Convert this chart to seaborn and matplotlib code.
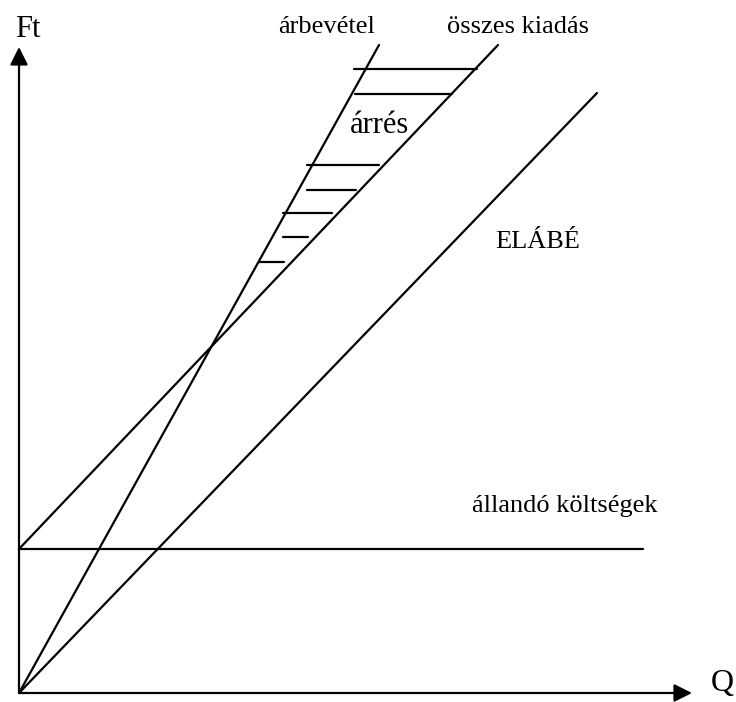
import matplotlib
matplotlib.use("Agg")
import matplotlib.pyplot as plt
import seaborn as sns
import pandas as pd

# ---- data (Q units on x, Ft units on y) ----
line_names = ["árbevétel", "összes kiadás", "ELÁBÉ", "állandó költségek"]
line_q_start = [0.0, 0.0, 0.0, 0.0]
line_ft_start = [0.0, 14.4, 0.0, 14.4]
line_q_end = [36.0, 47.9, 57.8, 62.4]
line_ft_end = [64.8, 64.8, 60.0, 14.4]

# margin hatching between revenue and total cost
hatch_ft = [62.4, 59.9, 52.8, 50.3, 48.0, 45.6, 43.1]
hatch_q_start = [33.5, 33.6, 28.8, 28.8, 26.4, 26.4, 24.0]
hatch_q_end = [45.8, 43.3, 36.0, 33.7, 31.3, 28.9, 26.5]

axis_q_max = 67.3
axis_ft_max = 64.6

labels = ["árbevétel", "összes kiadás", "árrés", "ELÁBÉ", "állandó költségek", "Ft", "Q"]
label_q = [25.9, 42.8, 33.1, 47.6, 45.3, -0.4, 69.2]
label_ft = [66.0, 66.0, 56.0, 44.5, 18.1, 65.6, 0.2]
label_size = [19, 19, 22, 19, 19, 22, 23]

# ---- build long table ----
rows = []
for i, n in enumerate(line_names):
    rows.append({"id": n, "Q": line_q_start[i], "Ft": line_ft_start[i]})
    rows.append({"id": n, "Q": line_q_end[i], "Ft": line_ft_end[i]})
for i, y in enumerate(hatch_ft):
    rows.append({"id": f"h{i}", "Q": hatch_q_start[i], "Ft": y})
    rows.append({"id": f"h{i}", "Q": hatch_q_end[i], "Ft": y})
df = pd.DataFrame(rows)

sns.set_theme(style="white")
plt.rcParams["font.family"] = ["Liberation Serif", "DejaVu Serif"]

fig = plt.figure(figsize=(7.36, 7.02), dpi=100)
ax = fig.add_axes([0, 0, 1, 1])
sns.lineplot(data=df, x="Q", y="Ft", units="id", estimator=None, sort=False,
             color="black", linewidth=1.6, ax=ax)

# axes with arrow heads
arrow = dict(arrowstyle="-|>,head_length=1.0,head_width=0.5", mutation_scale=10.8,
             lw=1.6, color="black", shrinkA=0, shrinkB=0)
ax.annotate("", xy=(0, axis_ft_max), xytext=(0, 0), arrowprops=arrow)
ax.annotate("", xy=(axis_q_max, 0), xytext=(0, 0), arrowprops=arrow)

for t, x, y, s in zip(labels, label_q, label_ft, label_size):
    ax.text(x, y, t, fontsize=s, ha="left", va="baseline", color="black")

ax.set_xlim(-1.9, 71.7)
ax.set_ylim(-0.9, 69.3)
ax.axis("off")
fig.savefig("out.png", dpi=100)
